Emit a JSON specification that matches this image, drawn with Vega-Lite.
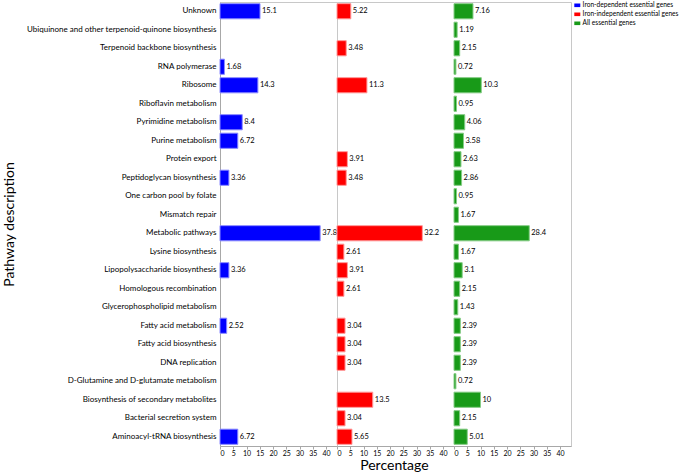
{
  "$schema": "https://vega.github.io/schema/vega-lite/v6.json",
  "padding": {"left": 1, "top": 1, "right": 0, "bottom": 0},
  "autosize": {"type": "pad"},
  "bounds": "flush",
  "spacing": 0,
  "title": {"text": "Percentage", "orient": "bottom", "anchor": "middle", "fontSize": 14, "fontWeight": "normal", "font": "Lato", "color": "black", "offset": 2, "dx": 54},
  "datasets": {
    "d": [
      {"pathway": "Unknown", "group": "Iron-dependent essential genes", "value": 15.1},
      {"pathway": "RNA polymerase", "group": "Iron-dependent essential genes", "value": 1.68},
      {"pathway": "Ribosome", "group": "Iron-dependent essential genes", "value": 14.3},
      {"pathway": "Pyrimidine metabolism", "group": "Iron-dependent essential genes", "value": 8.4},
      {"pathway": "Purine metabolism", "group": "Iron-dependent essential genes", "value": 6.72},
      {"pathway": "Peptidoglycan biosynthesis", "group": "Iron-dependent essential genes", "value": 3.36},
      {"pathway": "Metabolic pathways", "group": "Iron-dependent essential genes", "value": 37.8},
      {"pathway": "Lipopolysaccharide biosynthesis", "group": "Iron-dependent essential genes", "value": 3.36},
      {"pathway": "Fatty acid metabolism", "group": "Iron-dependent essential genes", "value": 2.52},
      {"pathway": "Aminoacyl-tRNA biosynthesis", "group": "Iron-dependent essential genes", "value": 6.72},
      {"pathway": "Unknown", "group": "Iron-independent essential genes", "value": 5.22},
      {"pathway": "Terpenoid backbone biosynthesis", "group": "Iron-independent essential genes", "value": 3.48},
      {"pathway": "Ribosome", "group": "Iron-independent essential genes", "value": 11.3},
      {"pathway": "Protein export", "group": "Iron-independent essential genes", "value": 3.91},
      {"pathway": "Peptidoglycan biosynthesis", "group": "Iron-independent essential genes", "value": 3.48},
      {"pathway": "Metabolic pathways", "group": "Iron-independent essential genes", "value": 32.2},
      {"pathway": "Lysine biosynthesis", "group": "Iron-independent essential genes", "value": 2.61},
      {"pathway": "Lipopolysaccharide biosynthesis", "group": "Iron-independent essential genes", "value": 3.91},
      {"pathway": "Homologous recombination", "group": "Iron-independent essential genes", "value": 2.61},
      {"pathway": "Fatty acid metabolism", "group": "Iron-independent essential genes", "value": 3.04},
      {"pathway": "Fatty acid biosynthesis", "group": "Iron-independent essential genes", "value": 3.04},
      {"pathway": "DNA replication", "group": "Iron-independent essential genes", "value": 3.04},
      {"pathway": "Biosynthesis of secondary metabolites", "group": "Iron-independent essential genes", "value": 13.5},
      {"pathway": "Bacterial secretion system", "group": "Iron-independent essential genes", "value": 3.04},
      {"pathway": "Aminoacyl-tRNA biosynthesis", "group": "Iron-independent essential genes", "value": 5.65},
      {"pathway": "Unknown", "group": "All essential genes", "value": 7.16},
      {"pathway": "Ubiquinone and other terpenoid-quinone biosynthesis", "group": "All essential genes", "value": 1.19},
      {"pathway": "Terpenoid backbone biosynthesis", "group": "All essential genes", "value": 2.15},
      {"pathway": "RNA polymerase", "group": "All essential genes", "value": 0.72},
      {"pathway": "Ribosome", "group": "All essential genes", "value": 10.3},
      {"pathway": "Riboflavin metabolism", "group": "All essential genes", "value": 0.95},
      {"pathway": "Pyrimidine metabolism", "group": "All essential genes", "value": 4.06},
      {"pathway": "Purine metabolism", "group": "All essential genes", "value": 3.58},
      {"pathway": "Protein export", "group": "All essential genes", "value": 2.63},
      {"pathway": "Peptidoglycan biosynthesis", "group": "All essential genes", "value": 2.86},
      {"pathway": "One carbon pool by folate", "group": "All essential genes", "value": 0.95},
      {"pathway": "Mismatch repair", "group": "All essential genes", "value": 1.67},
      {"pathway": "Metabolic pathways", "group": "All essential genes", "value": 28.4},
      {"pathway": "Lysine biosynthesis", "group": "All essential genes", "value": 1.67},
      {"pathway": "Lipopolysaccharide biosynthesis", "group": "All essential genes", "value": 3.1},
      {"pathway": "Homologous recombination", "group": "All essential genes", "value": 2.15},
      {"pathway": "Glycerophospholipid metabolism", "group": "All essential genes", "value": 1.43},
      {"pathway": "Fatty acid metabolism", "group": "All essential genes", "value": 2.39},
      {"pathway": "Fatty acid biosynthesis", "group": "All essential genes", "value": 2.39},
      {"pathway": "DNA replication", "group": "All essential genes", "value": 2.39},
      {"pathway": "D-Glutamine and D-glutamate metabolism", "group": "All essential genes", "value": 0.72},
      {"pathway": "Biosynthesis of secondary metabolites", "group": "All essential genes", "value": 10},
      {"pathway": "Bacterial secretion system", "group": "All essential genes", "value": 2.15},
      {"pathway": "Aminoacyl-tRNA biosynthesis", "group": "All essential genes", "value": 5.01}
    ]
  },
  "data": {"name": "d"},
  "resolve": {"scale": {"color": "shared", "stroke": "shared", "x": "independent", "y": "independent"}},
  "hconcat": [
    {
      "width": 117, "height": 444,
      "view": {"stroke": "#c8c8c8"},
      "transform": [{"filter": {"field": "group", "equal": "Iron-dependent essential genes"}}],
      "encoding": {
        "y": {"field": "pathway", "type": "nominal",
          "scale": {"domain": ["Unknown", "Ubiquinone and other terpenoid-quinone biosynthesis", "Terpenoid backbone biosynthesis", "RNA polymerase", "Ribosome", "Riboflavin metabolism", "Pyrimidine metabolism", "Purine metabolism", "Protein export", "Peptidoglycan biosynthesis", "One carbon pool by folate", "Mismatch repair", "Metabolic pathways", "Lysine biosynthesis", "Lipopolysaccharide biosynthesis", "Homologous recombination", "Glycerophospholipid metabolism", "Fatty acid metabolism", "Fatty acid biosynthesis", "DNA replication", "D-Glutamine and D-glutamate metabolism", "Biosynthesis of secondary metabolites", "Bacterial secretion system", "Aminoacyl-tRNA biosynthesis"], "paddingInner": 0.18, "paddingOuter": 0.09},
          "axis": {"title": "Pathway description", "titleFontSize": 14, "titleFontWeight": "normal", "titlePadding": 10, "titleColor": "black", "ticks": false, "domainColor": "#a8a8a8", "labelFontSize": 8, "labelColor": "black", "labelPadding": 4, "labelLimit": 400}},
        "x": {"field": "value", "type": "quantitative", "scale": {"domain": [0, 44.15], "nice": false}, "axis": {"title": null, "values": [0, 5, 10, 15, 20, 25, 30, 35, 40], "grid": false}}
      },
      "layer": [
        {"mark": {"type": "bar", "strokeWidth": 1},
         "encoding": {
           "color": {"field": "group", "type": "nominal", "scale": {"domain": ["Iron-dependent essential genes", "Iron-independent essential genes", "All essential genes"], "range": ["#0000ff", "#ff0000", "#189a18"]}, "legend": {"title": null}},
           "stroke": {"field": "group", "type": "nominal", "scale": {"domain": ["Iron-dependent essential genes", "Iron-independent essential genes", "All essential genes"], "range": ["#8c8cff", "#ff9a9a", "#86cc86"]}, "legend": null}}},
        {"mark": {"type": "text", "align": "left", "baseline": "middle", "dx": 2, "fontSize": 7.5, "color": "black"},
         "encoding": {"text": {"field": "value", "type": "nominal"}}}
      ]
    },
    {
      "width": 117, "height": 444,
      "view": {"stroke": "#c8c8c8", "strokeDash": [117, 444, 561]},
      "transform": [{"filter": {"field": "group", "equal": "Iron-independent essential genes"}}],
      "encoding": {
        "y": {"field": "pathway", "type": "nominal",
          "scale": {"domain": ["Unknown", "Ubiquinone and other terpenoid-quinone biosynthesis", "Terpenoid backbone biosynthesis", "RNA polymerase", "Ribosome", "Riboflavin metabolism", "Pyrimidine metabolism", "Purine metabolism", "Protein export", "Peptidoglycan biosynthesis", "One carbon pool by folate", "Mismatch repair", "Metabolic pathways", "Lysine biosynthesis", "Lipopolysaccharide biosynthesis", "Homologous recombination", "Glycerophospholipid metabolism", "Fatty acid metabolism", "Fatty acid biosynthesis", "DNA replication", "D-Glutamine and D-glutamate metabolism", "Biosynthesis of secondary metabolites", "Bacterial secretion system", "Aminoacyl-tRNA biosynthesis"], "paddingInner": 0.18, "paddingOuter": 0.09},
          "axis": null},
        "x": {"field": "value", "type": "quantitative", "scale": {"domain": [0, 44.15], "nice": false}, "axis": {"title": null, "values": [0, 5, 10, 15, 20, 25, 30, 35, 40], "grid": false}}
      },
      "layer": [
        {"mark": {"type": "bar", "strokeWidth": 1},
         "encoding": {
           "color": {"field": "group", "type": "nominal", "scale": {"domain": ["Iron-dependent essential genes", "Iron-independent essential genes", "All essential genes"], "range": ["#0000ff", "#ff0000", "#189a18"]}, "legend": {"title": null}},
           "stroke": {"field": "group", "type": "nominal", "scale": {"domain": ["Iron-dependent essential genes", "Iron-independent essential genes", "All essential genes"], "range": ["#8c8cff", "#ff9a9a", "#86cc86"]}, "legend": null}}},
        {"mark": {"type": "text", "align": "left", "baseline": "middle", "dx": 2, "fontSize": 7.5, "color": "black"},
         "encoding": {"text": {"field": "value", "type": "nominal"}}}
      ]
    },
    {
      "width": 117, "height": 444,
      "view": {"stroke": "#c8c8c8", "strokeDash": [678, 444]},
      "transform": [{"filter": {"field": "group", "equal": "All essential genes"}}],
      "encoding": {
        "y": {"field": "pathway", "type": "nominal",
          "scale": {"domain": ["Unknown", "Ubiquinone and other terpenoid-quinone biosynthesis", "Terpenoid backbone biosynthesis", "RNA polymerase", "Ribosome", "Riboflavin metabolism", "Pyrimidine metabolism", "Purine metabolism", "Protein export", "Peptidoglycan biosynthesis", "One carbon pool by folate", "Mismatch repair", "Metabolic pathways", "Lysine biosynthesis", "Lipopolysaccharide biosynthesis", "Homologous recombination", "Glycerophospholipid metabolism", "Fatty acid metabolism", "Fatty acid biosynthesis", "DNA replication", "D-Glutamine and D-glutamate metabolism", "Biosynthesis of secondary metabolites", "Bacterial secretion system", "Aminoacyl-tRNA biosynthesis"], "paddingInner": 0.18, "paddingOuter": 0.09},
          "axis": null},
        "x": {"field": "value", "type": "quantitative", "scale": {"domain": [0, 44.15], "nice": false}, "axis": {"title": null, "values": [0, 5, 10, 15, 20, 25, 30, 35, 40], "grid": false}}
      },
      "layer": [
        {"mark": {"type": "bar", "strokeWidth": 1},
         "encoding": {
           "color": {"field": "group", "type": "nominal", "scale": {"domain": ["Iron-dependent essential genes", "Iron-independent essential genes", "All essential genes"], "range": ["#0000ff", "#ff0000", "#189a18"]}, "legend": {"title": null}},
           "stroke": {"field": "group", "type": "nominal", "scale": {"domain": ["Iron-dependent essential genes", "Iron-independent essential genes", "All essential genes"], "range": ["#8c8cff", "#ff9a9a", "#86cc86"]}, "legend": null}}},
        {"mark": {"type": "text", "align": "left", "baseline": "middle", "dx": 2, "fontSize": 7.5, "color": "black"},
         "encoding": {"text": {"field": "value", "type": "nominal"}}}
      ]
    }
  ],
  "config": {
    "font": "Lato",
    "axis": {"labelFont": "Lato", "titleFont": "Lato", "labelFontSize": 7, "labelColor": "black", "domainColor": "#a8a8a8", "tickColor": "#a8a8a8", "tickSize": 3, "labelPadding": 0},
    "text": {"font": "Lato"},
    "legend": {"orient": "right", "offset": 2, "padding": 0, "labelFont": "Lato", "labelFontSize": 6.6, "labelColor": "black", "symbolType": "M-1,-0.6H1V0.6H-1Z", "symbolSize": 36, "symbolStrokeWidth": 0, "rowPadding": 2, "labelOffset": 2, "labelLimit": 200}
  }
}
